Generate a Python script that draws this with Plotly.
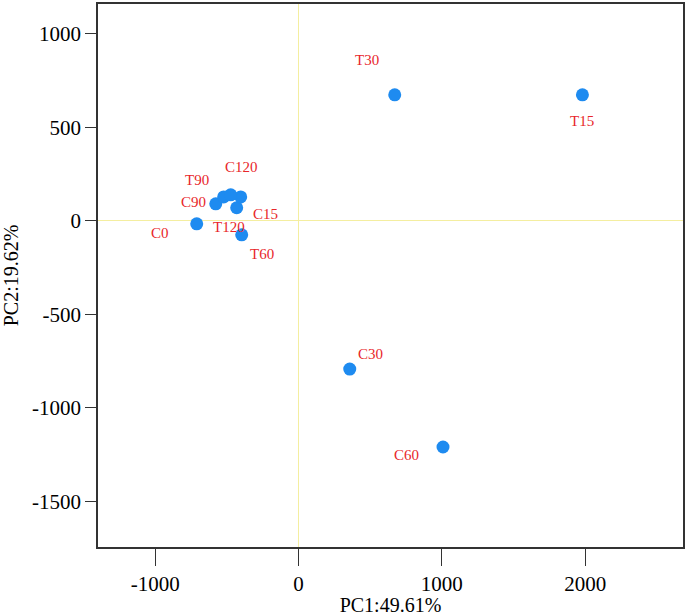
import plotly.graph_objects as go

samples = ["C0", "C15", "C30", "C60", "C90", "C120", "T15", "T30", "T60", "T90", "T120"]
pc1 = [-711, -432, 357, 1008, -578, -404, 1981, 671, -397, -523, -474]
pc2 = [-16, 70, -793, -1210, 91, 128, 674, 674, -75, 128, 139]
# label offsets in pixels (style)
lab_dx = [-37, 29, 21, -37, -22, 1, 0, -28, 20, -27, -2]
lab_dy = [-9, -6, 15, -8, 2, 30, -26, 35, -19, 17, -32]

x_ticks = [-1000, 0, 1000, 2000]
x_ticktext = ["-1000", "0", "1000", "2000"]
y_ticks = [-1500, -1000, -500, 0, 500, 1000]
y_ticktext = ["-1500", "-1000", "-500", "0", "500", "1000"]

fig = go.Figure()
fig.add_trace(go.Scatter(
    x=pc1, y=pc2, mode="markers",
    marker=dict(color="#1E8BF0", size=13, line=dict(width=0)),
    hoverinfo="text", text=samples, showlegend=False,
))

for s, x, y, dx, dy in zip(samples, pc1, pc2, lab_dx, lab_dy):
    fig.add_annotation(x=x, y=y, text=s, showarrow=False, xshift=dx, yshift=dy,
                       font=dict(family="Liberation Serif", size=15, color="#E8262A"))

axis_common = dict(
    showgrid=False, zeroline=True, zerolinecolor="#F4EEA0", zerolinewidth=1.2,
    showline=True, linecolor="#333333", linewidth=1.5, mirror=True,
    ticks="outside", tickcolor="#333333", tickwidth=1.3,
    tickfont=dict(family="Liberation Serif", size=21, color="#000000"),
)

fig.update_xaxes(range=[-1400, 2683], tickvals=x_ticks, ticktext=x_ticktext, ticklen=17,
                 title=dict(text="PC1:49.61%", standoff=6,
                            font=dict(family="Liberation Serif", size=20, color="#000")),
                 **axis_common)
fig.update_yaxes(range=[-1745, 1160], tickvals=y_ticks, ticktext=y_ticktext, ticklen=11,
                 title=dict(text="PC2:19.62%", standoff=8,
                            font=dict(family="Liberation Serif", size=20, color="#000")),
                 **axis_common)

fig.update_layout(
    width=685, height=616,
    margin=dict(l=98, r=2, t=4, b=69, autoexpand=False),
    plot_bgcolor="white", paper_bgcolor="white",
)

fig.write_html("out.html", config={"responsive": False, "displayModeBar": False})

with open("out.html", "r", encoding="utf-8") as f:
    html = f.read()
html = html.replace("<head>", "<head><style>html,body{margin:0;padding:0;overflow:hidden;}</style>", 1)
with open("out.html", "w", encoding="utf-8") as f:
    f.write(html)
